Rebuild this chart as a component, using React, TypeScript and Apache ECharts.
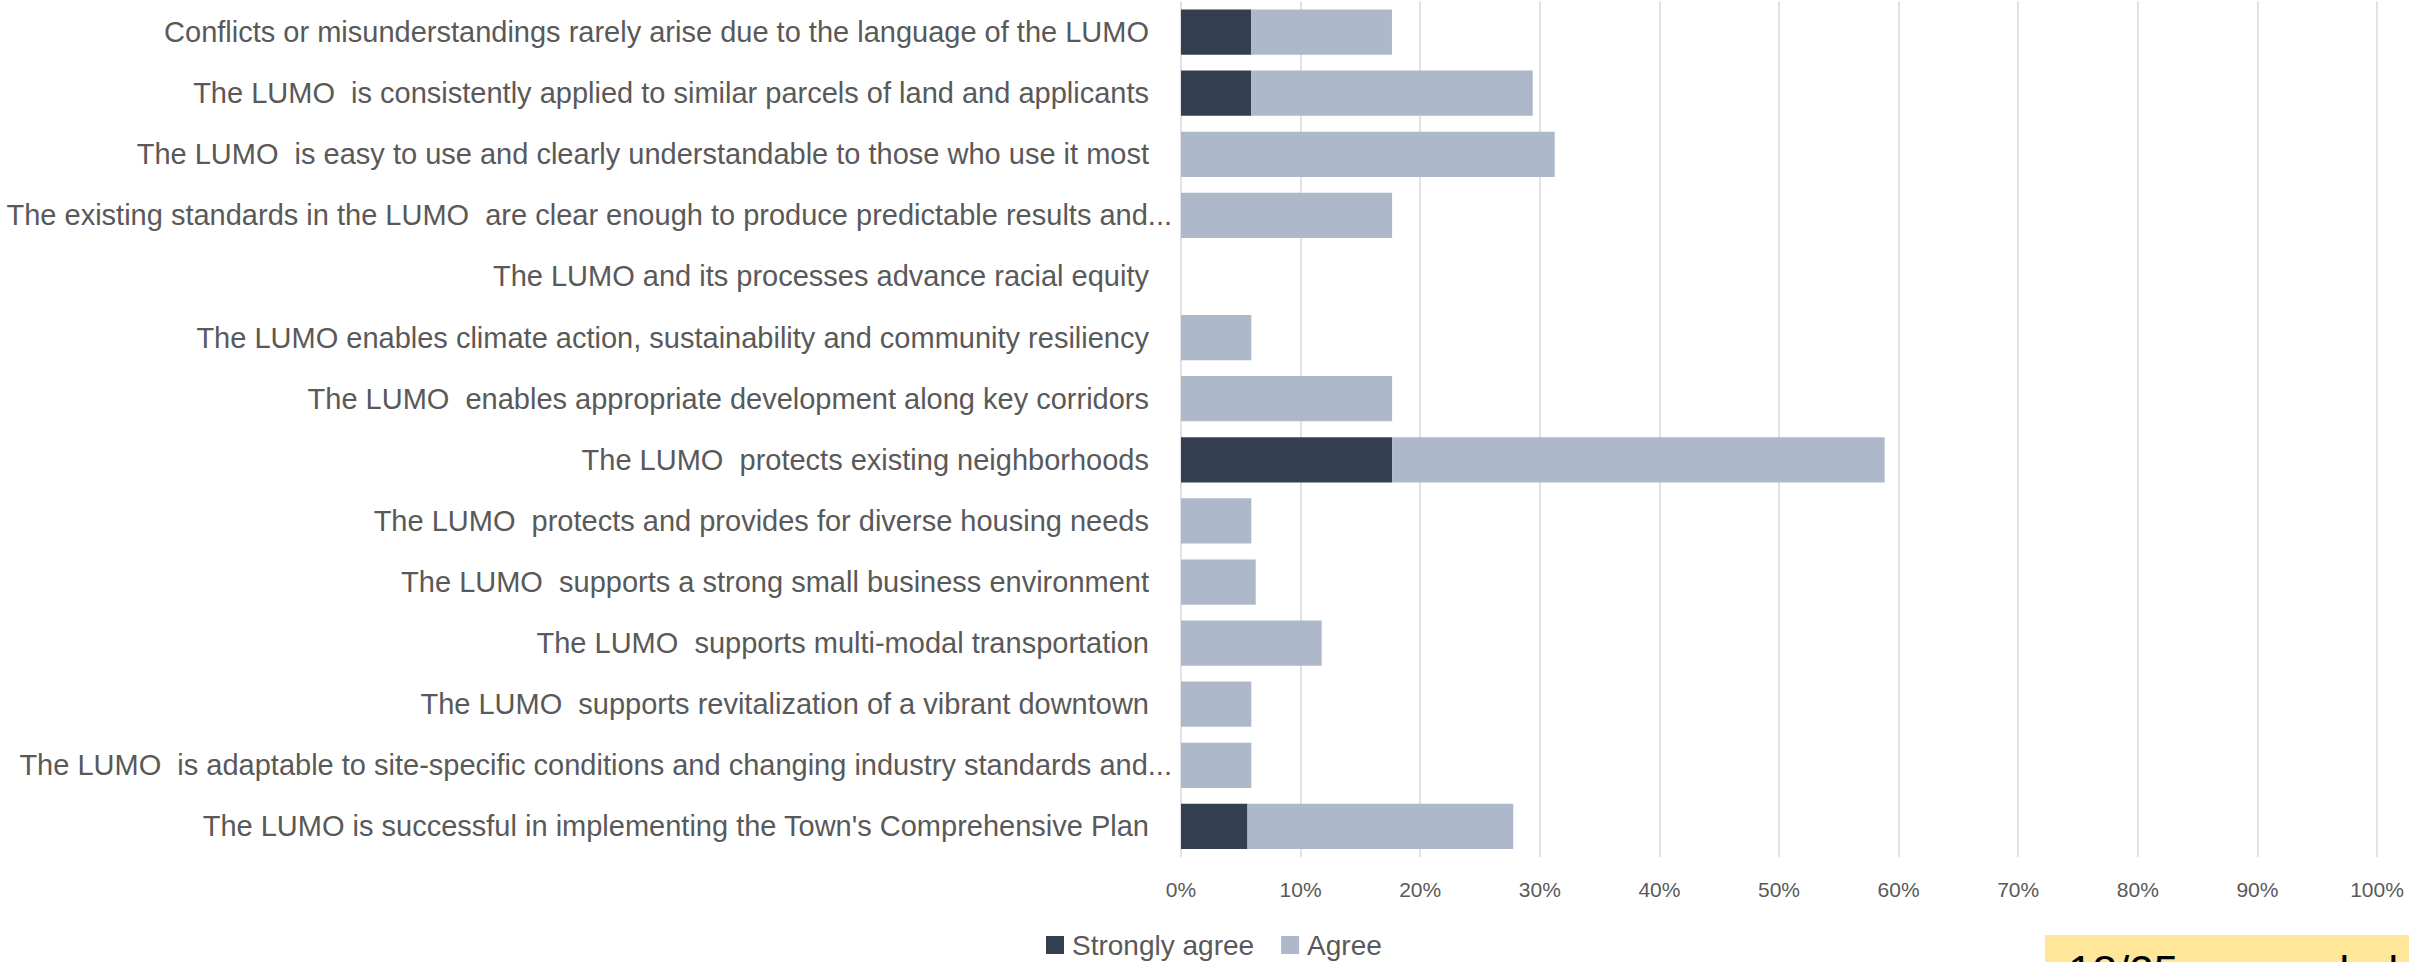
import React, { useEffect, useRef } from "react";
import * as echarts from "echarts";

const categories = [
  "Conflicts or misunderstandings rarely arise due to the language of the LUMO",
  "The LUMO  is consistently applied to similar parcels of land and applicants",
  "The LUMO  is easy to use and clearly understandable to those who use it most",
  "The existing standards in the LUMO  are clear enough to produce predictable results and...",
  "The LUMO and its processes advance racial equity",
  "The LUMO enables climate action, sustainability and community resiliency",
  "The LUMO  enables appropriate development along key corridors",
  "The LUMO  protects existing neighborhoods",
  "The LUMO  protects and provides for diverse housing needs",
  "The LUMO  supports a strong small business environment",
  "The LUMO  supports multi-modal transportation",
  "The LUMO  supports revitalization of a vibrant downtown",
  "The LUMO  is adaptable to site-specific conditions and changing industry standards and...",
  "The LUMO is successful in implementing the Town's Comprehensive Plan",
];

const stronglyAgree = [5.88, 5.88, 0, 0, 0, 0, 0, 17.65, 0, 0, 0, 0, 0, 5.56];
const agree = [11.76, 23.53, 31.25, 17.65, 0, 5.88, 17.65, 41.18, 5.88, 6.25, 11.76, 5.88, 5.88, 22.22];

const xTicks = [0, 10, 20, 30, 40, 50, 60, 70, 80, 90, 100];

const FONT = "'Liberation Sans', Arial, sans-serif";
const TEXT = "#595959";

export default function App() {
  const ref = useRef<HTMLDivElement>(null);
  useEffect(() => {
    if (!ref.current) return;
    const chart = echarts.init(ref.current, undefined, { renderer: "svg" });
    chart.setOption({
      animation: false,
      backgroundColor: "#ffffff",
      grid: { left: 1181, right: 32, top: 1.5, bottom: 105, containLabel: false },
      legend: {
        data: ["Strongly agree", "Agree"],
        left: 1041,
        top: 925,
        icon: "rect",
        itemWidth: 18,
        itemHeight: 18,
        itemGap: 27,
        textStyle: { fontFamily: FONT, fontSize: 28, color: TEXT, lineHeight: 30, padding: [0, 0, 0, 3] },
      },
      xAxis: {
        type: "value",
        min: xTicks[0],
        max: xTicks[xTicks.length - 1],
        interval: 10,
        axisLine: { show: false },
        axisTick: { show: false },
        axisLabel: {
          formatter: "{value}%",
          fontFamily: FONT,
          fontSize: 21,
          color: TEXT,
          margin: 22,
        },
        splitLine: { show: true, lineStyle: { color: "#D9D9D9", width: 1.5 } },
      },
      yAxis: {
        type: "category",
        data: categories,
        inverse: true,
        axisLine: { show: false },
        axisTick: { show: false },
        axisLabel: {
          margin: 9,
          formatter: (v: string) => (v.endsWith("...") ? "{t|" + v + "}" : "{n|" + v + "}"),
          rich: {
            n: { fontFamily: FONT, fontSize: 29, color: TEXT, padding: [0, 23, 0, 0] },
            t: { fontFamily: FONT, fontSize: 29, color: TEXT },
          },
        },
      },
      series: [
        {
          name: "Strongly agree",
          type: "bar",
          stack: "total",
          data: stronglyAgree,
          barCategoryGap: "26%",
          itemStyle: { color: "#333F50" },
        },
        {
          name: "Agree",
          type: "bar",
          stack: "total",
          data: agree,
          barCategoryGap: "26%",
          itemStyle: { color: "#ADB9CA" },
        },
      ],
      graphic: [
        {
          type: "rect",
          shape: { x: 2045, y: 935, width: 400, height: 60 },
          style: { fill: "#FFE699" },
          z: 10,
        },
        {
          type: "text",
          x: 2068,
          y: 949,
          z: 11,
          style: {
            text: "18/25 responded",
            fontFamily: FONT,
            fontSize: 44,
            fill: "#000000",
            textVerticalAlign: "top",
          },
        },
      ],
    });
    return () => chart.dispose();
  }, []);
  return (
    <div
      ref={ref}
      style={{ position: "fixed", left: 0, top: 0, width: 2409, height: 962 }}
    />
  );
}
